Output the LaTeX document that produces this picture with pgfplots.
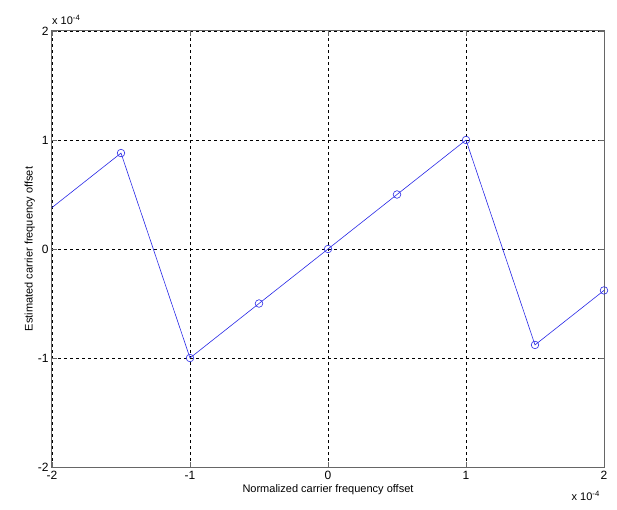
\documentclass[border=0pt]{standalone}
\usepackage{fontspec}
\setmainfont{Liberation Sans}
\usepackage{pgfplots}
\pgfplotsset{compat=1.18}
\begin{document}
\begin{tikzpicture}
\begin{axis}[
  scale only axis,
  width=552pt, height=436pt,
  xmin=-2, xmax=2, ymin=-2, ymax=2,
  xtick={-2,-1,0,1,2}, ytick={-2,-1,0,1,2},
  /pgf/number format/assume math mode=true,
  ticklabel style={font=\fontsize{12}{14}\selectfont},
  xticklabel style={yshift=-1pt},
  tick align=inside,
  major tick length=5pt,
  grid=major,
  major grid style={black, dashed, line width=0.5pt},
  axis line style={black!60, line width=1pt},
  tick style={black!60},
  xlabel={Normalized carrier frequency offset},
  ylabel={Estimated carrier frequency offset},
  label style={font=\fontsize{11}{12}\selectfont},
  xlabel style={yshift=2pt},
  ylabel style={yshift=-4pt},
  clip=false,
]
\addplot[color={rgb,255:red,40;green,40;blue,230}, line width=0.6pt, mark=o, mark size=3.8pt,
  mark indices={2,3,4,5,6,7,8,9}, mark options={solid}]
  coordinates {(-2,0.38) (-1.5,0.88) (-1,-1) (-0.5,-0.5) (0,0) (0.5,0.5) (1,1) (1.5,-0.88) (2,-0.38)};
\end{axis}
\node[anchor=south west, font=\fontsize{11}{12}\selectfont, inner sep=0pt] at ([xshift=0pt,yshift=6pt]current axis.north west) {x 10\textsuperscript{-4}};
\node[anchor=north east, font=\fontsize{11}{12}\selectfont, inner sep=0pt] at ([xshift=-4pt,yshift=-24pt]current axis.south east) {x 10\textsuperscript{-4}};
\useasboundingbox ([xshift=-52pt,yshift=-42pt]current axis.south west) rectangle ([xshift=13pt,yshift=31pt]current axis.north east);
\end{tikzpicture}
\end{document}
